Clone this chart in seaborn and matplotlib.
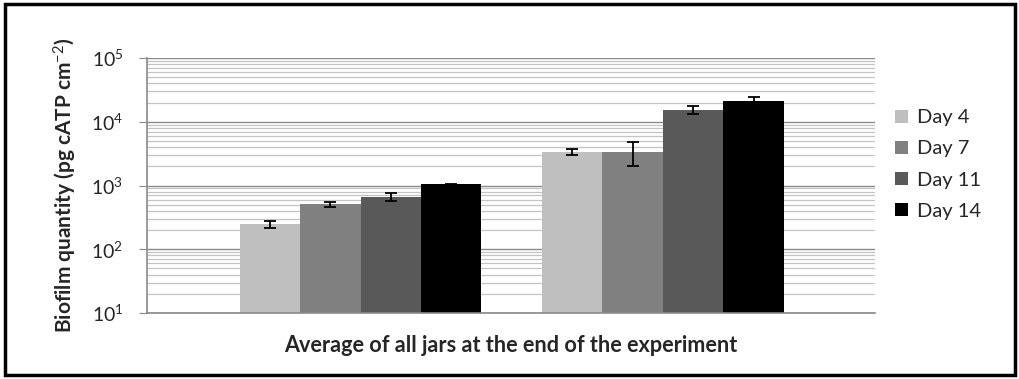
import pandas as pd
import seaborn as sns
import matplotlib.pyplot as plt
from matplotlib.patches import Rectangle
from matplotlib.ticker import LogLocator

# Dados
grupos = ["Grupo A", "Grupo B"]
dias = ["Day 4", "Day 7", "Day 11", "Day 14"]
day4 = [250, 3350]
day7 = [510, 3400]
day11 = [660, 15500]
day14 = [1040, 21500]
err_day4 = [32, 380]
err_day7 = [45, 1400]
err_day11 = [95, 2200]
err_day14 = [20, 3000]
cores = ["#bfbfbf", "#808080", "#595959", "#000000"]

valores = [day4, day7, day11, day14]
erros = [err_day4, err_day7, err_day11, err_day14]
df = pd.DataFrame({
    "grupo": grupos * len(dias),
    "dia": [d for d in dias for _ in grupos],
    "valor": [v for serie in valores for v in serie],
})

sns.set_style("white")
plt.rcParams["font.family"] = ["Lato", "DejaVu Sans"]
plt.rcParams["mathtext.fontset"] = "custom"
plt.rcParams["mathtext.rm"] = "Lato"
plt.rcParams["mathtext.it"] = "Lato:italic"
plt.rcParams["mathtext.bf"] = "Lato:bold"

fig = plt.figure(figsize=(10.2, 3.79), dpi=100)
ax = fig.add_axes([0.1441, 0.1741, 0.7137, 0.6729])

sns.barplot(data=df, x="grupo", y="valor", hue="dia", hue_order=dias,
            palette=cores, errorbar=None, width=0.8, linewidth=0, ax=ax)
ax.set_yscale("log")

# Barras de erro
for cont, err in zip(ax.containers, erros):
    for barra, e in zip(cont, err):
        ax.errorbar(barra.get_x() + barra.get_width() / 2, barra.get_height(), yerr=e,
                    fmt="none", ecolor="black", elinewidth=1.3, capsize=4, capthick=1.3, zorder=5)

ax.set_ylim(10, 1e5)
ax.set_xlim(-0.706, 1.701)
ax.yaxis.set_minor_locator(LogLocator(base=10, subs=range(2, 10)))
ax.set_axisbelow(True)
ax.grid(which="major", axis="y", color="#8a8a8a", linewidth=1.0)
ax.grid(which="minor", axis="y", color="#c4c4c4", linewidth=0.9)

for lado in ["top", "right"]:
    ax.spines[lado].set_visible(False)
for lado in ["left", "bottom"]:
    ax.spines[lado].set_color("#8a8a8a")
    ax.spines[lado].set_linewidth(1.2)

ax.tick_params(axis="y", which="major", length=6, color="#8a8a8a", pad=11, labelsize=14, left=True)
ax.tick_params(axis="y", which="minor", length=0)
ax.tick_params(axis="x", length=0)
ax.set_xticklabels([])

ax.set_xlabel("Average of all jars at the end of the experiment", fontsize=15.6, fontweight="bold", labelpad=12)
ax.set_ylabel("Biofilm quantity (pg cATP cm$^{-2}$)", fontsize=15, fontweight="bold", labelpad=9)

ax.legend(loc="upper left", bbox_to_anchor=(0.868, 0.738), bbox_transform=fig.transFigure,
          frameon=False, fontsize=14.5, handlelength=0.6, handleheight=0.6,
          handletextpad=0.45, labelspacing=0.7, borderpad=0, title=None)

# Moldura da figura
fig.patches.append(Rectangle((0.005, 0.011), 0.99, 0.978, transform=fig.transFigure,
                             fill=False, edgecolor="black", linewidth=2.5))

plt.savefig("out.png", dpi=100)
